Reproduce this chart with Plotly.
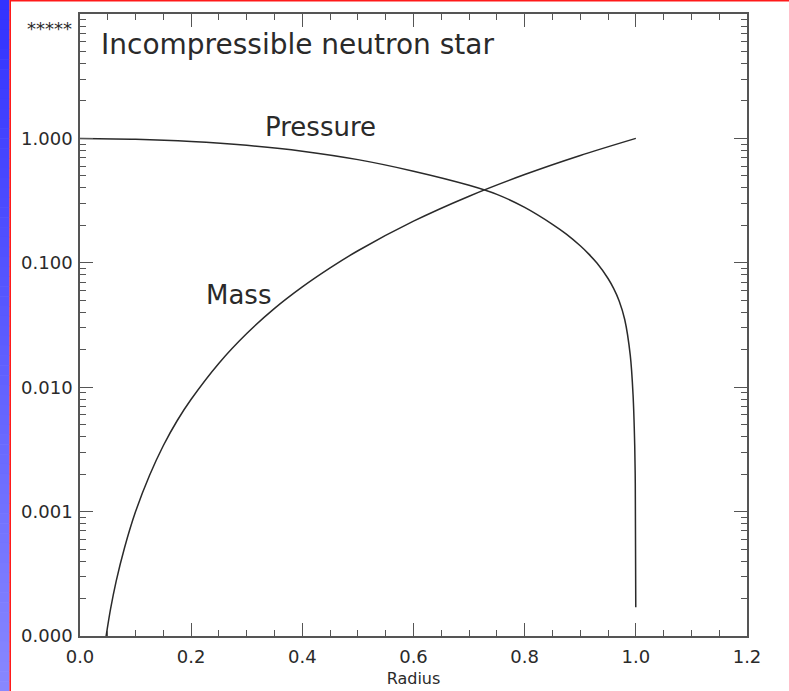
import plotly.graph_objects as go

# Radius grid and normalised profiles of an incompressible (constant-density) star
mass_radius = [0.047, 0.055, 0.065, 0.08, 0.1, 0.125, 0.15, 0.175, 0.2, 0.25,
               0.3, 0.35, 0.4, 0.45, 0.5, 0.6, 0.7, 0.8, 0.9, 1.0]
mass_value = [1.0e-4, 1.65e-4, 2.75e-4, 5.1e-4, 1.0e-3, 1.95e-3, 3.4e-3, 5.4e-3,
              8.0e-3, 0.0156, 0.027, 0.043, 0.064, 0.091, 0.125, 0.216, 0.343,
              0.512, 0.729, 1.0]

pressure_radius = [0.0, 0.1, 0.2, 0.3, 0.4, 0.5, 0.6, 0.7, 0.75, 0.8, 0.85,
                   0.875, 0.9, 0.915, 0.93, 0.95, 0.96, 0.97, 0.98, 0.99, 0.995,
                   0.998, 0.999, 0.9999]
pressure_value = [1.0, 0.985, 0.945, 0.88, 0.79, 0.675, 0.545, 0.42, 0.355,
                  0.279, 0.204, 0.170, 0.137, 0.118, 0.0995, 0.0748, 0.0622,
                  0.0494, 0.035, 0.018, 0.0087, 0.0034, 0.0017, 0.00017]

x_ticks = [0.0, 0.2, 0.4, 0.6, 0.8, 1.0, 1.2]
y_ticks = [1e-4, 1e-3, 1e-2, 1e-1, 1.0, 10.0]
y_tick_text = ["0.000", "0.001", "0.010", "0.100", "1.000", ""]
y_overflow_label = "*****"

W, H = 789, 691
L, R, T, B = 80, 42, 14, 55
PW, PH = W - L - R, H - T - B


def px_x(px):
    return (px - L) / PW


def px_y(py):
    return (H - B - py) / PH


AX = "#555555"
INK = "#2a2a2a"
FONT = "DejaVu Sans"

fig = go.Figure()
fig.add_trace(go.Scatter(x=mass_radius, y=mass_value, mode="lines",
                         line=dict(color=INK, width=1.5, shape="spline", smoothing=0.8),
                         showlegend=False))
fig.add_trace(go.Scatter(x=pressure_radius, y=pressure_value, mode="lines",
                         line=dict(color=INK, width=1.5, shape="spline", smoothing=0.8),
                         showlegend=False))

minor_y = [m * d for d in [1e-4, 1e-3, 1e-2, 1e-1, 1.0] for m in range(2, 10)]

axis_common = dict(showline=True, linecolor=AX, linewidth=1.6, mirror="allticks",
                   ticks="inside", ticklen=13, tickwidth=1.4, tickcolor=AX,
                   showgrid=False, zeroline=False, automargin=False,
                   tickfont=dict(family=FONT, size=18, color=INK))

fig.update_xaxes(range=[0, 1.2], tickvals=x_ticks, tickformat=".1f",
                 minor=dict(dtick=0.05, tick0=0, ticks="inside", ticklen=6,
                            tickwidth=1.4, tickcolor=AX, showgrid=False),
                 ticklabelstandoff=4,
                 title=dict(text="Radius", font=dict(family=FONT, size=16, color=INK),
                            standoff=6),
                 **axis_common)
fig.update_yaxes(type="log", range=[-4, 1], tickvals=y_ticks, ticktext=y_tick_text,
                 minor=dict(tickmode="array", tickvals=minor_y, ticks="inside",
                            ticklen=6, tickwidth=1.4, tickcolor=AX, showgrid=False),
                 ticklabelstandoff=2,
                 **axis_common)

# Frame decoration: blue gradient strip on the left, red rules
shapes = []
bands = 70
for i in range(bands):
    t = i / (bands - 1)
    c = int(51 + 85 * t)
    y0 = i * H / bands
    y1 = (i + 1) * H / bands + 0.6
    shapes.append(dict(type="rect", xref="paper", yref="paper",
                       x0=px_x(0), x1=px_x(9.5), y0=px_y(y1), y1=px_y(y0),
                       line=dict(width=0), fillcolor=f"rgb({c},{c},255)", layer="below"))
shapes.append(dict(type="line", xref="paper", yref="paper",
                   x0=px_x(10.2), x1=px_x(10.2), y0=px_y(H), y1=px_y(0),
                   line=dict(color="#ff1a1a", width=1.6)))
shapes.append(dict(type="line", xref="paper", yref="paper",
                   x0=px_x(10.2), x1=px_x(W), y0=px_y(0.8), y1=px_y(0.8),
                   line=dict(color="#ff1a1a", width=1.6)))

annotations = [
    dict(text="Incompressible neutron star", xref="x", yref="y", x=0.034, y=0.755,
         xanchor="left", yanchor="middle", showarrow=False,
         font=dict(family=FONT, size=28, color=INK)),
    dict(text="Pressure", xref="x", yref="y", x=0.432, y=0.088,
         xanchor="center", yanchor="middle", showarrow=False,
         font=dict(family=FONT, size=26, color=INK)),
    dict(text="Mass", xref="x", yref="y", x=0.285, y=-1.261,
         xanchor="center", yanchor="middle", showarrow=False,
         font=dict(family=FONT, size=26, color=INK)),
    dict(text=y_overflow_label, xref="paper", yref="y", x=px_x(74), y=1,
         xanchor="right", yanchor="middle", yshift=-14, showarrow=False,
         font=dict(family=FONT, size=18, color=INK)),
]

fig.update_layout(width=W, height=H, autosize=False,
                  margin=dict(l=L, r=R, t=T, b=B, pad=0),
                  paper_bgcolor="white", plot_bgcolor="white",
                  shapes=shapes, annotations=annotations)

fig.write_html("out.html")
